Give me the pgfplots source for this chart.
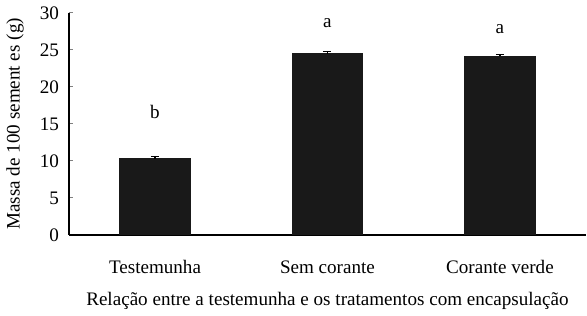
\documentclass[border=0pt]{standalone}
\usepackage{fontspec}
\setmainfont{Liberation Serif}
\usepackage{pgfplots}
\pgfplotsset{compat=1.18}
\begin{document}
\fontsize{9.5}{11}\selectfont
\begin{tikzpicture}
\begin{axis}[
  scale only axis,
  width=257.5pt, height=110.5pt,
  xmin=-0.5, xmax=2.5,
  ymin=0, ymax=30,
  ytick={0,5,...,30},
  xtick={0,1,2},
  xticklabels={Testemunha, Sem corante, Corante verde},
  extra x ticks={0.5,1.5},
  extra x tick labels={},
  extra x tick style={major tick length=3pt, tick style={line width=0.6pt}},
  axis x line*=bottom, axis y line*=left,
  axis line style={line width=0.8pt, -},
  x axis line style={-}, y axis line style={-},
  tick align=inside,
  major tick length=2pt,
  xtick style={draw=none},
  ytick style={line width=0.6pt},
  tick label style={font=\fontsize{9.5}{11}\selectfont},
  /pgf/number format/assume math mode=true,
  yticklabel style={xshift=-1.5pt},
  xticklabel style={yshift=-9.5pt},
  ylabel={Massa de 100 sement es (g)},
  ylabel style={font=\fontsize{9.5}{11}\selectfont, yshift=1.5pt},
  xlabel={Relação entre a testemunha e os tratamentos com encapsulação},
  xlabel style={font=\fontsize{9.5}{11}\selectfont, yshift=-2.5pt},
  clip=false,
]
\addplot[ybar, bar width=0.41, fill=black!90, draw=black!90,
  error bars/.cd, y dir=plus, y explicit, error mark=-, error bar style={line width=0.8pt, black}]
  coordinates {(0,10.3) +- (0,0.35) (1,24.5) +- (0,0.35) (2,24.1) +- (0,0.3)};
\node[anchor=base] at (axis cs:0,15.7) {b};
\node[anchor=base] at (axis cs:1,28.0) {a};
\node[anchor=base] at (axis cs:2,27.2) {a};
\end{axis}
\end{tikzpicture}
\end{document}
